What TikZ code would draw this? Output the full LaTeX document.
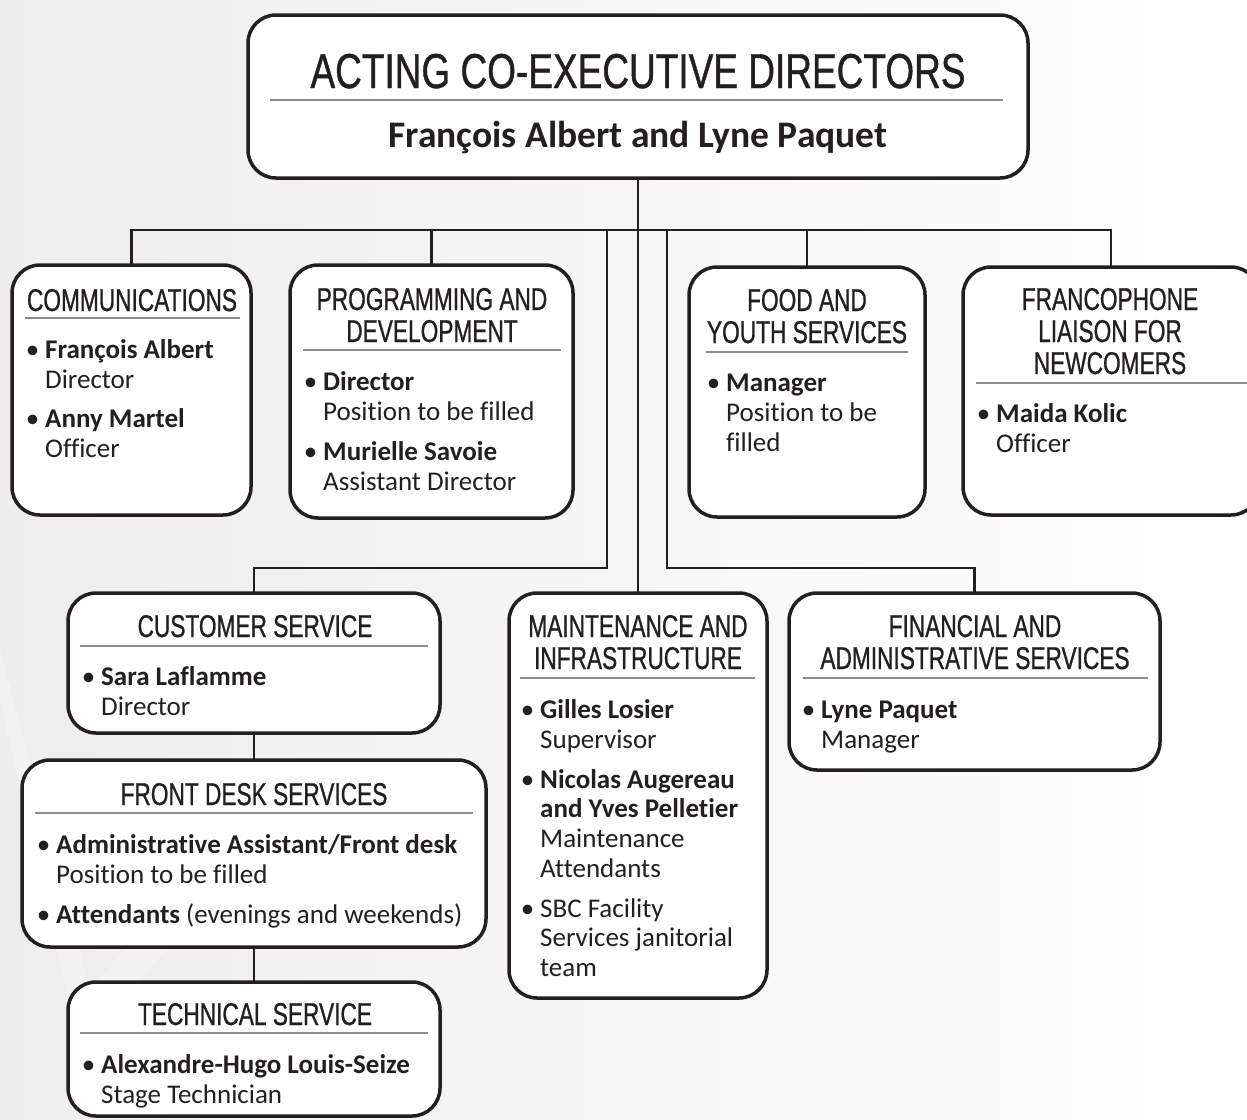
\documentclass[tikz,border=0pt]{standalone}
\usepackage{fontspec}
\setmainfont{Carlito}[Ligatures=NoCommon]
\newfontfamily\narrowfont[FakeStretch=0.72,FakeBold=0.8]{Liberation Sans}
\newfontfamily\titlefont[FakeStretch=0.755,FakeBold=0.8]{Liberation Sans}
\definecolor{ink}{HTML}{231F20}
\definecolor{rulegray}{HTML}{8C8C8C}
\newcommand\bul{\llap{\textbullet\hspace{6pt}}}
\begin{document}
\begin{tikzpicture}[x=1pt,y=-1pt,
  orgbox/.style={draw=ink, line width=3.5pt, rounded corners=28pt, fill=white, inner sep=0pt, outer sep=0pt, anchor=north west},
  head/.style={font=\narrowfont\fontsize{31.5}{32}\selectfont, text=ink, anchor=base, inner sep=0pt},
  bigtitle/.style={font=\titlefont\fontsize{49}{52}\selectfont, text=ink, anchor=base, inner sep=0pt},
  bigname/.style={font=\bfseries\fontsize{37.5}{40}\selectfont, text=ink, anchor=base, inner sep=0pt},
  bt/.style={font=\fontsize{27}{30}\selectfont, text=ink, anchor=base west, inner sep=0pt},
  seprule/.style={draw=rulegray, line width=1.2pt},
  link/.style={draw=ink, line width=2.4pt}]
\useasboundingbox (0,0) rectangle (1247,1119);
\begin{scope}
\clip (0,0) rectangle (1247,1119);
% background
\shade[left color=black!7, right color=white] (0,0) rectangle (1247,1119);
\fill[black!5] (0,650) -- (0,700) -- (80,1050) -- (330,760) -- (300,745) -- (90,990) -- cycle;
\fill[black!5] (200,1119) -- (330,960) -- (360,975) -- (240,1119) -- cycle;

% coordinates for connectors
\coordinate (bus) at (638,230);
\coordinate (lbtop) at (607,230);
\coordinate (lbturn) at (607,568);
\coordinate (rbtop) at (667,230);
\coordinate (rbturn) at (667,568);

% boxes
\node[orgbox, minimum width=780pt, minimum height=163pt] (top) at (248,15) {};
\node[orgbox, minimum width=239pt, minimum height=250pt] (comm) at (12,265) {};
\node[orgbox, minimum width=283pt, minimum height=253pt] (prog) at (290,265) {};
\node[orgbox, minimum width=236pt, minimum height=250pt] (food) at (689,267) {};
\node[orgbox, minimum width=296pt, minimum height=248pt] (fran) at (963,267) {};
\node[orgbox, minimum width=372pt, minimum height=140pt] (cust) at (68,593) {};
\node[orgbox, minimum width=464pt, minimum height=187pt] (front) at (22,760) {};
\node[orgbox, minimum width=372pt, minimum height=134pt] (tech) at (68,982) {};
\node[orgbox, minimum width=258pt, minimum height=405pt] (maint) at (509,593) {};
\node[orgbox, minimum width=371pt, minimum height=177pt] (fin) at (789,593) {};

% connectors
\draw[link] (top.south) -- (maint.north);
\draw[link] (comm.north) |- (bus) -| (fran.north);
\draw[link] (prog.north) -- (prog.north |- bus);
\draw[link] (food.north) -- (food.north |- bus);
\draw[link] (lbtop) -- (lbturn) -| (cust.north);
\draw[link] (rbtop) -- (rbturn) -| (fin.north);
\draw[link] (cust.south) -- (front.north);
\draw[link] (front.south) -- (tech.north);

% top box text
\node[bigtitle] (toptitle) at (638,88) {ACTING CO-EXECUTIVE DIRECTORS};
\draw[seprule] (270,100) -- (1003,100);
\node[bigname] (topname) at (638,147) {François Albert and Lyne Paquet};

% communications
\node[head] (commh) at (132,311) {COMMUNICATIONS};
\draw[seprule] (25,318) -- (240,318);
\node[bt] (comm1) at (45,358) {\bul\textbf{François Albert}};
\node[bt] (comm2) at (45,388) {Director};
\node[bt] (comm3) at (45,427) {\bul\textbf{Anny Martel}};
\node[bt] (comm4) at (45,457) {Officer};

% programming
\node[head] (progh1) at (432,310) {PROGRAMMING AND};
\node[head] (progh2) at (432,342) {DEVELOPMENT};
\draw[seprule] (303,350) -- (561,350);
\node[bt] (prog1) at (323,390) {\bul\textbf{Director}};
\node[bt] (prog2) at (323,420) {Position to be filled};
\node[bt] (prog3) at (323,460) {\bul\textbf{Murielle Savoie}};
\node[bt] (prog4) at (323,490) {Assistant Director};

% food
\node[head] (foodh1) at (807,311) {FOOD AND};
\node[head] (foodh2) at (807,343) {YOUTH SERVICES};
\draw[seprule] (706,352) -- (908,352);
\node[bt] (food1) at (726,391) {\bul\textbf{Manager}};
\node[bt] (food2) at (726,421) {Position to be};
\node[bt] (food3) at (726,451) {filled};

% francophone
\node[head] (franh1) at (1110,310) {FRANCOPHONE};
\node[head] (franh2) at (1110,342) {LIAISON FOR};
\node[head] (franh3) at (1110,374) {NEWCOMERS};
\draw[seprule] (976,383) -- (1247,383);
\node[bt] (fran1) at (996,422) {\bul\textbf{Maida Kolic}};
\node[bt] (fran2) at (996,452) {Officer};

% customer service
\node[head] (custh) at (255,637) {CUSTOMER SERVICE};
\draw[seprule] (80,646) -- (428,646);
\node[bt] (cust1) at (101,685) {\bul\textbf{Sara Laflamme}};
\node[bt] (cust2) at (101,715) {Director};

% front desk
\node[head] (fronth) at (254,805) {FRONT DESK SERVICES};
\draw[seprule] (35,813) -- (473,813);
\node[bt] (front1) at (56,853) {\bul\textbf{Administrative Assistant/Front desk}};
\node[bt] (front2) at (56,883) {Position to be filled};
\node[bt] (front3) at (56,923) {\bul\textbf{Attendants} (evenings and weekends)};

% technical
\node[head] (techh) at (255,1025) {TECHNICAL SERVICE};
\draw[seprule] (80,1033) -- (428,1033);
\node[bt] (tech1) at (101,1073) {\bul\textbf{Alexandre-Hugo Louis-Seize}};
\node[bt] (tech2) at (101,1103) {Stage Technician};

% maintenance
\node[head] (mainth1) at (638,637) {MAINTENANCE AND};
\node[head] (mainth2) at (638,669) {INFRASTRUCTURE};
\draw[seprule] (520,678) -- (755,678);
\node[bt] (maint1) at (540,718) {\bul\textbf{Gilles Losier}};
\node[bt] (maint2) at (540,748) {Supervisor};
\node[bt] (maint3) at (540,788) {\bul\textbf{Nicolas Augereau}};
\node[bt] (maint4) at (540,817) {\textbf{and Yves Pelletier}};
\node[bt] (maint5) at (540,847) {Maintenance};
\node[bt] (maint6) at (540,877) {Attendants};
\node[bt] (maint7) at (540,917) {\bul SBC Facility};
\node[bt] (maint8) at (540,946) {Services janitorial};
\node[bt] (maint9) at (540,976) {team};

% financial
\node[head] (finh1) at (975,637) {FINANCIAL AND};
\node[head] (finh2) at (975,669) {ADMINISTRATIVE SERVICES};
\draw[seprule] (803,678) -- (1148,678);
\node[bt] (fin1) at (821,718) {\bul\textbf{Lyne Paquet}};
\node[bt] (fin2) at (821,748) {Manager};
\end{scope}
\end{tikzpicture}
\end{document}
